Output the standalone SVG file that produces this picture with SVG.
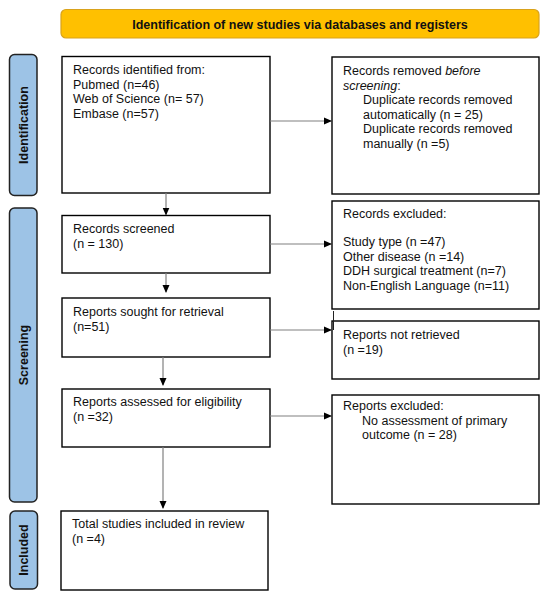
<svg xmlns="http://www.w3.org/2000/svg" width="550" height="600" viewBox="0 0 550 600">
<defs>
<marker id="ah" markerWidth="8" markerHeight="8" refX="7" refY="4" orient="auto" markerUnits="userSpaceOnUse">
<path d="M0,0.5 L8,4 L0,7.5 Z" fill="#000"/>
</marker>
<style>
.box{fill:#fff;stroke:#000;stroke-width:1.4}
.t{font-family:"Liberation Sans",Arial,sans-serif;font-size:12.5px;fill:#111}
.side{fill:#9DC3E6;stroke:#222;stroke-width:1.5}
.st{font-family:"Liberation Sans",Arial,sans-serif;font-size:12.5px;font-weight:bold;fill:#111}
.c{stroke:#808080;stroke-width:1.2;fill:none}
</style>
</defs>
<rect width="550" height="600" fill="#fff"/>
<g id="header">
<rect x="61" y="9.5" width="478" height="28.5" rx="5" fill="#FFC000" stroke="#D9A21B" stroke-width="1.2"/>
<text class="st" x="300" y="28.5" text-anchor="middle">Identification of new studies via databases and registers</text>
</g>
<g id="lbl-identification">
<rect class="side" x="9.5" y="54.5" width="27.5" height="141" rx="5"/>
<text class="st" transform="translate(27.5,125) rotate(-90)" text-anchor="middle">Identification</text>
</g>
<g id="lbl-screening">
<rect class="side" x="9.5" y="208" width="27.5" height="294" rx="5"/>
<text class="st" transform="translate(27.5,355) rotate(-90)" text-anchor="middle">Screening</text>
</g>
<g id="lbl-included">
<rect class="side" x="10" y="511" width="27.5" height="78" rx="5"/>
<text class="st" transform="translate(28,550) rotate(-90)" text-anchor="middle">Included</text>
</g>
<g id="records-identified">
<rect class="box" x="62" y="56.5" width="208" height="136.5"/>
<text class="t" x="73" y="74">Records identified from:</text>
<text class="t" x="73" y="88.5">Pubmed (n=46)</text>
<text class="t" x="73" y="103">Web of Science (n= 57)</text>
<text class="t" x="73" y="117.5">Embase (n=57)</text>
</g>
<g id="records-removed">
<rect class="box" x="332" y="57" width="207" height="137"/>
<text class="t" x="343" y="75">Records removed <tspan font-style="italic">before</tspan></text>
<text class="t" x="343" y="89.5"><tspan font-style="italic">screening</tspan>:</text>
<text class="t" x="363" y="104">Duplicate records removed</text>
<text class="t" x="363" y="118.5">automatically (n = 25)</text>
<text class="t" x="363" y="133">Duplicate records removed</text>
<text class="t" x="363" y="147.5">manually (n =5)</text>
</g>
<g id="records-screened">
<rect class="box" x="62" y="215.5" width="208" height="57.5"/>
<text class="t" x="73" y="233">Records screened</text>
<text class="t" x="73" y="247.5">(n = 130)</text>
</g>
<g id="records-excluded">
<rect class="box" x="332" y="201" width="207" height="108"/>
<text class="t" x="343" y="218">Records excluded:</text>
<text class="t" x="343" y="246">Study type (n =47)</text>
<text class="t" x="343" y="260.5">Other disease (n =14)</text>
<text class="t" x="343" y="275">DDH surgical treatment (n=7)</text>
<text class="t" x="343" y="289.5">Non-English Language (n=11)</text>
</g>
<g id="reports-sought">
<rect class="box" x="62" y="298" width="208" height="59"/>
<text class="t" x="73" y="316">Reports sought for retrieval</text>
<text class="t" x="73" y="330.5">(n=51)</text>
</g>
<g id="reports-not-retrieved">
<rect class="box" x="332" y="321" width="207" height="58"/>
<text class="t" x="343" y="339">Reports not retrieved</text>
<text class="t" x="343" y="353.5">(n =19)</text>
</g>
<g id="reports-assessed">
<rect class="box" x="62" y="389" width="208" height="58"/>
<text class="t" x="73" y="406">Reports assessed for eligibility</text>
<text class="t" x="73" y="420.5">(n =32)</text>
</g>
<g id="reports-excluded">
<rect class="box" x="332" y="395" width="207" height="109"/>
<text class="t" x="343" y="410">Reports excluded:</text>
<text class="t" x="362" y="424.5">No assessment of primary</text>
<text class="t" x="362" y="438.5">outcome (n = 28)</text>
</g>
<g id="total-included">
<rect class="box" x="61" y="511" width="207" height="79"/>
<text class="t" x="72" y="528">Total studies included in review</text>
<text class="t" x="72" y="542.5">(n =4)</text>
</g>
<g id="connectors">
<line class="c" x1="166" y1="193" x2="166" y2="214.5" marker-end="url(#ah)"/>
<line class="c" x1="166" y1="273" x2="166" y2="292" marker-end="url(#ah)"/>
<line class="c" x1="163" y1="357" x2="163" y2="385" marker-end="url(#ah)"/>
<line class="c" x1="163" y1="447" x2="163" y2="508" marker-end="url(#ah)"/>
<line class="c" x1="270" y1="121" x2="331" y2="121" marker-end="url(#ah)"/>
<line class="c" x1="270" y1="244" x2="331" y2="244" marker-end="url(#ah)"/>
<line class="c" x1="270" y1="330" x2="331" y2="330" marker-end="url(#ah)"/>
<line class="c" x1="270" y1="416" x2="331" y2="416" marker-end="url(#ah)"/>
<line x1="333.5" y1="311" x2="333.5" y2="330" stroke="#222" stroke-width="1"/>
</g>
</svg>
